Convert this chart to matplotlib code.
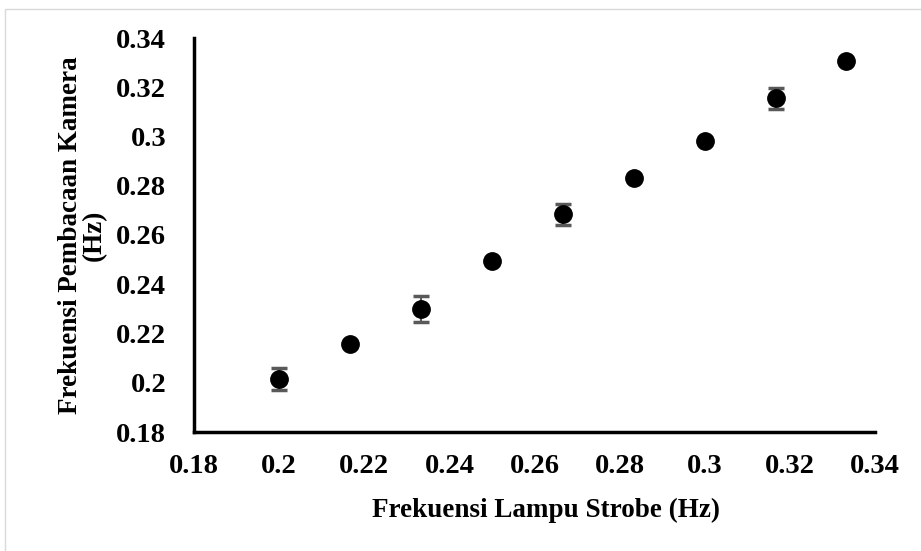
import matplotlib.pyplot as plt
from matplotlib.patches import Rectangle
from matplotlib.ticker import FuncFormatter

# data
strobe_hz = [0.2, 0.2167, 0.2333, 0.25, 0.2667, 0.2833, 0.3, 0.3167, 0.3333]
camera_hz = [0.2015, 0.2157, 0.2298, 0.2495, 0.2684, 0.2833, 0.2980, 0.3155, 0.3307]
camera_err = [0.0043, 0.0, 0.0053, 0.0, 0.0043, 0.0, 0.0, 0.0042, 0.0]

x_ticks = [0.18, 0.2, 0.22, 0.24, 0.26, 0.28, 0.3, 0.32, 0.34]
y_ticks = [0.18, 0.2, 0.22, 0.24, 0.26, 0.28, 0.3, 0.32, 0.34]

plt.rcParams['font.family'] = ['Liberation Serif', 'DejaVu Serif']
plt.rcParams['font.weight'] = 'bold'


def main():
    fig = plt.figure(figsize=(9.21, 5.51), dpi=100)
    # light grey chart-area border
    fig.patches.append(Rectangle((5 / 921, -0.1), 1.1, 1 - 9 / 551 + 0.1,
                                 transform=fig.transFigure, fill=False,
                                 edgecolor='#d9d9d9', linewidth=1))
    ax = fig.add_axes([194 / 921, 1 - 432 / 551, (875 - 194) / 921, (432 - 38) / 551])

    ax.errorbar(strobe_hz, camera_hz, yerr=camera_err, fmt='none',
                ecolor='#595959', elinewidth=1.5, capsize=6, capthick=2.5, zorder=2)
    ax.plot(strobe_hz, camera_hz, 'o', color='black', markersize=12.5, zorder=3)

    ax.set_xlim(0.18, 0.34)
    ax.set_ylim(0.18, 0.34)
    ax.set_xticks(x_ticks)
    ax.set_yticks(y_ticks)
    fmt = FuncFormatter(lambda v, p: '%g' % round(v, 4))
    ax.xaxis.set_major_formatter(fmt)
    ax.yaxis.set_major_formatter(fmt)
    ax.tick_params(length=0, labelsize=20.5)
    ax.tick_params(axis='x', pad=16)
    ax.tick_params(axis='y', pad=20)

    for s in ['top', 'right']:
        ax.spines[s].set_visible(False)
    for s in ['left', 'bottom']:
        ax.spines[s].set_linewidth(2.5)
        ax.spines[s].set_color('black')

    ax.set_xlabel('Frekuensi Lampu Strobe (Hz)', fontsize=19.5, fontweight='bold', labelpad=13)
    ax.xaxis.set_label_coords(0.517, -0.166)
    ax.set_ylabel('Frekuensi Pembacaan Kamera\n(Hz)', fontsize=19.5, fontweight='bold',
                  labelpad=7, linespacing=0.9)

    fig.savefig('out.png', dpi=100)


if __name__ == '__main__':
    main()
